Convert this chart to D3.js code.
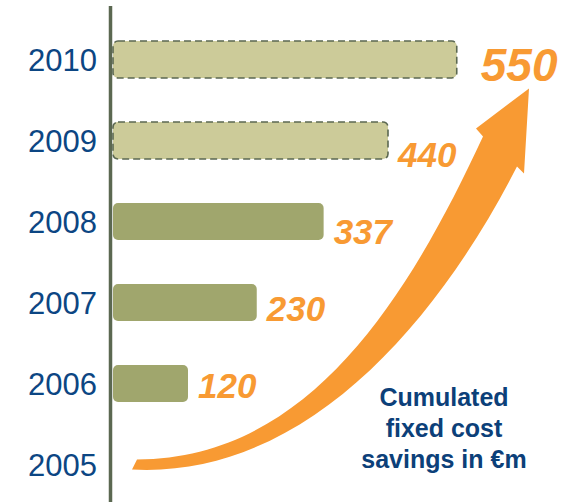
<!DOCTYPE html>
<html>
<head>
<meta charset="utf-8">
<script src="https://cdn.jsdelivr.net/npm/d3@7"></script>
<style>
  html, body { margin: 0; padding: 0; background: #ffffff; }
  svg { display: block; font-family: "Liberation Sans", Arial, sans-serif; }
</style>
</head>
<body>
<svg id="chart" width="567" height="502"></svg>
<script>
// Cumulated fixed cost savings (EUR m) by year
const years   = ["2010", "2009", "2008", "2007", "2006", "2005"];
const savings = [550, 440, 337, 230, 120, 0];
const status  = ["target", "target", "actual", "actual", "actual", "base"];
const captionLines = ["Cumulated", "fixed cost", "savings in €m"];

const rows = years.map((y, i) => ({ year: y, value: savings[i], status: status[i] }));

const svg = d3.select("#chart");
const W = 567, H = 502;

const colors = {
  axis: "#5b6851",
  actual: "#a0a66d",
  target: "#cccb99",
  targetStroke: "#5b6851",
  year: "#0c4683",
  value: "#f89a33",
  caption: "#0c4079"
};

const y = d3.scaleBand()
  .domain(years)
  .range([19, 505])
  .paddingInner(0.545)
  .paddingOuter(0.2725);

const x = d3.scaleLinear()
  .domain([0, 550])
  .range([113, 456.75]);

// Rising arrow behind the bars, built around the chart's scales
const x0 = x(0), yBase = y("2005") + y.bandwidth() / 2, yTop = y("2010") + y.bandwidth() / 2;
const ax = v => x0 + v, ay = v => yBase + v;
const arrow = d3.path();
arrow.moveTo(ax(24), ay(-5));
arrow.bezierCurveTo(ax(194), ay(-5), ax(294), ay(-164), ax(370), ay(-328));
arrow.lineTo(ax(363), ay(-336));
arrow.lineTo(ax(416), ay(-376));
arrow.lineTo(ax(411), ay(-291));
arrow.lineTo(ax(404), ay(-298));
arrow.bezierCurveTo(ax(320), ay(-134), ax(187), ay(14), ax(19), ay(5));
arrow.closePath();

svg.append("path")
  .attr("d", arrow.toString())
  .attr("fill", colors.value);

// Axis line
svg.append("line")
  .attr("x1", 110.5).attr("x2", 110.5)
  .attr("y1", 6).attr("y2", H)
  .attr("stroke", colors.axis)
  .attr("stroke-width", 3.5);

// Year labels
svg.append("g")
  .selectAll("text")
  .data(rows)
  .join("text")
  .attr("x", 97)
  .attr("y", d => y(d.year) + y.bandwidth() / 2)
  .attr("dy", "0.36em")
  .attr("text-anchor", "end")
  .attr("font-size", 31)
  .attr("fill", colors.year)
  .text(d => d.year);

// Bars (2005 is the baseline year and has no bar)
const barRows = rows.filter(d => d.value > 0);
svg.append("g")
  .selectAll("rect")
  .data(barRows)
  .join("rect")
  .attr("x", x(0))
  .attr("y", d => y(d.year))
  .attr("width", d => x(d.value) - x(0))
  .attr("height", y.bandwidth())
  .attr("rx", 5).attr("ry", 5)
  .attr("fill", d => d.status === "target" ? colors.target : colors.actual)
  .attr("stroke", d => d.status === "target" ? colors.targetStroke : "none")
  .attr("stroke-width", 1.6)
  .attr("stroke-dasharray", d => d.status === "target" ? "7,4" : null);

// Value labels, stepping down toward the arrow; the final target is emphasised
const maxVal = d3.max(savings);
svg.append("g")
  .selectAll("text")
  .data(barRows)
  .join("text")
  .attr("x", d => x(d.value) + (d.value === maxVal ? 24 : 10))
  .attr("y", d => {
    const c = y(d.year) + y.bandwidth() / 2;
    if (d.value === maxVal) return c + 21.5;
    const k = years.length - 2 - years.indexOf(d.year); // 0 for 2006
    return c + 14 + 4.3 * k;
  })
  .attr("font-size", d => d.value === maxVal ? 46 : 35)
  .attr("font-weight", "bold")
  .attr("font-style", "italic")
  .attr("fill", colors.value)
  .text(d => d.value);

// Caption
svg.append("text")
  .attr("x", 444)
  .attr("y", 406)
  .attr("text-anchor", "middle")
  .attr("font-size", 25)
  .attr("font-weight", "bold")
  .attr("fill", colors.caption)
  .selectAll("tspan")
  .data(captionLines)
  .join("tspan")
  .attr("x", 444)
  .attr("dy", (d, i) => i === 0 ? 0 : 31)
  .text(d => d);
</script>
</body>
</html>
